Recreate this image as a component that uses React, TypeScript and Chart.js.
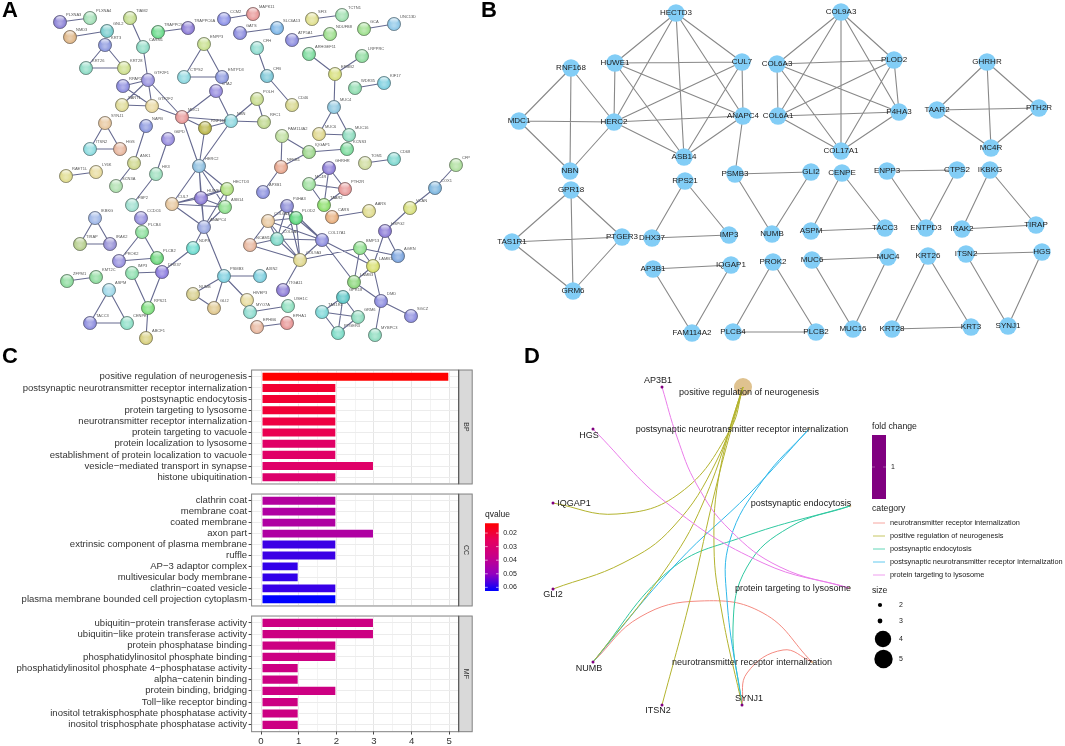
import React, { useEffect, useRef } from "react";
import { Chart, registerables } from "chart.js";

Chart.register(...registerables);

const FONT = "'Liberation Sans', Arial, sans-serif";

/* ---------- Panel A: protein interaction network ---------- */
const aNodes: [string, number, number, string][] = [
  ["PLXNA3", 60, 22, "#8f86d8"], ["PLXNA4", 90, 18, "#a3e0b8"], ["NMD3", 70, 37, "#e0b88a"], ["GNL2", 107, 31, "#7ccfd0"],
  ["KRT3", 105, 45, "#8f9be0"], ["KRT26", 86, 68, "#8fdcc6"], ["KRT28", 124, 68, "#cfe08f"], ["TIAM2", 130, 18, "#c5dd90"],
  ["CARM1", 143, 47, "#8fdcc6"], ["TRAPPC9", 158, 32, "#6fdc8f"], ["TRAPPC6A", 188, 28, "#9080d8"], ["GTF2F1", 148, 80, "#9a94e0"],
  ["RPAP2", 123, 86, "#8f8fe0"], ["SART1", 122, 105, "#e0dc9a"], ["GTF2F2", 152, 106, "#e8d8a0"], ["MDC1", 182, 117, "#e89a9a"],
  ["RNF168", 205, 128, "#bcb850"], ["NBN", 231, 121, "#8fd8e0"], ["HERC2", 199, 166, "#8fc0e0"], ["ENPP3", 204, 44, "#c8e090"],
  ["CTPS2", 184, 77, "#8fd8e0"], ["ENTPD3", 222, 77, "#8f9be0"], ["CTA2", 216, 91, "#9a8fe0"], ["SYNJ1", 105, 123, "#e8c8a0"],
  ["ITSN2", 90, 149, "#8fdce0"], ["HGS", 120, 149, "#e8b8a0"], ["NAPB", 146, 126, "#8f9be0"], ["G6PD", 168, 139, "#9a8fe0"],
  ["ANK1", 134, 163, "#d0d890"], ["HK3", 156, 174, "#a0e0c0"], ["RAET1L", 66, 176, "#e0dc90"], ["LY6K", 96, 172, "#e8dca0"],
  ["SCN3A", 116, 186, "#b0e0b0"], ["FBP2", 132, 205, "#a0e0d0"], ["CCDC6", 141, 218, "#9a94e0"], ["CUL7", 172, 204, "#e8c8a0"],
  ["HUWE1", 201, 198, "#8f80d8"], ["HECTD3", 227, 189, "#b0e080"], ["ASB14", 225, 207, "#90e090"], ["ANAPC4", 204, 227, "#9aa8e0"],
  ["NDP8", 193, 248, "#70dcd0"], ["PLCB4", 142, 232, "#90e0a0"], ["PROK2", 119, 261, "#9a94e0"], ["PLCB2", 157, 258, "#70d880"],
  ["DHX37", 162, 272, "#8f80e0"], ["IMP3", 132, 273, "#90e0b0"], ["RPS21", 148, 308, "#80e080"], ["ABCF1", 146, 338, "#d8d080"],
  ["IKBKG", 95, 218, "#a0b8e8"], ["TIRAP", 80, 244, "#b8d090"], ["IRAK2", 110, 244, "#9a94d8"], ["ZFPM1", 67, 281, "#90dca0"],
  ["KMT2C", 96, 277, "#90dca0"], ["ASPM", 109, 290, "#a0d8e8"], ["TACC3", 90, 323, "#9090e0"], ["CENPE", 127, 323, "#90e0c8"],
  ["PSMB3", 224, 276, "#80d0e0"], ["NUMB", 193, 294, "#d8d090"], ["GLI2", 214, 308, "#e0c890"], ["HIVEP3", 247, 300, "#e8dca0"],
  ["MYO7A", 250, 312, "#90dcd0"], ["AP3B1", 263, 192, "#8f94e0"], ["AXIN2", 260, 276, "#80d0e0"], ["NCAM1", 250, 245, "#e8b8a0"],
  ["COL6A3", 268, 221, "#e8c8a0"], ["P4HA3", 287, 206, "#8f8fd8"], ["PLOD2", 296, 218, "#60d880"], ["COL6A1", 277, 239, "#80d8c8"],
  ["COL17A1", 322, 240, "#8f8fe0"], ["COL9A3", 300, 260, "#e0d890"], ["ITGA11", 283, 290, "#9080d8"], ["USH1C", 288, 306, "#90e0c0"],
  ["EPHA1", 287, 323, "#e89a9a"], ["EPHB6", 257, 327, "#e8b8a0"], ["MC4R", 309, 184, "#a0e0a0"], ["GHRHR", 329, 168, "#8f80d8"],
  ["PTH2R", 345, 189, "#e89a9a"], ["TAAR2", 324, 205, "#90e070"], ["CARS", 332, 217, "#e8b080"], ["AARS", 369, 211, "#e0dc90"],
  ["HSPG2", 385, 231, "#8f80d8"], ["VCAN", 410, 208, "#d8e080"], ["COX1", 435, 188, "#80b8e0"], ["CFP", 456, 165, "#b0e0a0"],
  ["AGRN", 398, 256, "#80a8e0"], ["BMP13", 360, 248, "#90e090"], ["LAMB1", 373, 266, "#d8e070"], ["LAMB3", 354, 282, "#90d880"],
  ["DMD", 381, 301, "#8f8fe0"], ["SGCZ", 411, 316, "#8f8fe0"], ["MYBPC3", 375, 335, "#90dcc0"], ["GPR18", 343, 297, "#60c8c8"],
  ["TAS1R1", 322, 312, "#80d8d8"], ["GRM6", 358, 317, "#90dcc0"], ["PTGER3", 338, 333, "#80dcc8"], ["CCM2", 224, 19, "#8f94e8"],
  ["MAPK11", 253, 14, "#e89a9a"], ["GATS", 240, 33, "#8f8fe0"], ["SLC6A13", 277, 28, "#80b8e8"], ["SFI3", 312, 19, "#e0e090"],
  ["TCTN1", 342, 15, "#a0e0b0"], ["GCA", 364, 29, "#a0e090"], ["UNC13D", 394, 24, "#90c8e8"], ["ATP5A1", 292, 40, "#8f8fe0"],
  ["NDUFB8", 330, 34, "#a0e090"], ["CFH", 257, 48, "#90dcd0"], ["CFB", 267, 76, "#80c8d8"], ["CD46", 292, 105, "#d8d890"],
  ["ARHGEF11", 309, 54, "#80dca0"], ["ERBB2", 335, 74, "#d8e080"], ["LRPPRC", 362, 56, "#90dca0"], ["WDR35", 355, 88, "#90dcb0"],
  ["KIF17", 384, 83, "#80d0e0"], ["MUC4", 334, 107, "#90c8e0"], ["MUC6", 319, 134, "#e0d890"], ["MUC16", 349, 135, "#90dcc0"],
  ["KCNS3", 347, 149, "#80dca0"], ["FAM114A2", 282, 136, "#c0e0a0"], ["IQGAP1", 309, 152, "#a0d890"], ["NFKB1", 281, 167, "#e8a890"],
  ["TOM1", 365, 163, "#d0dca0"], ["CD68", 394, 159, "#80d8d0"], ["POLH", 257, 99, "#c8dc90"], ["RFC1", 264, 122, "#c0d890"],
];

const aGroups: string[][] = [
  ["PLXNA3", "PLXNA4"], ["NMD3", "GNL2"], ["KRT3", "KRT26", "KRT28"], ["TIAM2", "CARM1"], ["CARM1", "GTF2F1"],
  ["TRAPPC9", "TRAPPC6A"], ["GTF2F1", "RPAP2", "GTF2F2"], ["GTF2F1", "SART1"], ["SART1", "GTF2F2"], ["GTF2F1", "MDC1"],
  ["GTF2F2", "MDC1"], ["MDC1", "RNF168", "NBN", "HERC2"], ["MDC1", "CTA2"], ["CTA2", "NBN"], ["ENPP3", "CTPS2", "ENTPD3"],
  ["SYNJ1", "ITSN2", "HGS"], ["NAPB", "ANK1"], ["ANK1", "SCN3A"], ["G6PD", "HK3"], ["HK3", "FBP2"], ["RAET1L", "LY6K"],
  ["CCM2", "MAPK11"], ["GATS", "SLC6A13"], ["SFI3", "TCTN1"], ["GCA", "UNC13D"], ["ATP5A1", "NDUFB8"], ["CFH", "CFB"],
  ["CFB", "CD46"], ["ARHGEF11", "ERBB2"], ["LRPPRC", "ERBB2"], ["ERBB2", "MUC4"], ["WDR35", "KIF17"], ["MUC4", "MUC6", "MUC16"],
  ["FAM114A2", "IQGAP1", "NFKB1"], ["IQGAP1", "KCNS3"], ["TOM1", "CD68"], ["POLH", "NBN", "RFC1"], ["NFKB1", "AP3B1"],
  ["GHRHR", "MC4R", "PTH2R", "TAAR2"], ["CARS", "AARS"], ["CFP", "COX1"], ["COX1", "VCAN"], ["VCAN", "HSPG2"], ["HSPG2", "AGRN"],
  ["HSPG2", "LAMB1"], ["BMP13", "AGRN"], ["BMP13", "LAMB1", "LAMB3"], ["BMP13", "COL9A3"], ["LAMB1", "COL17A1"],
  ["LAMB3", "COL17A1"], ["LAMB1", "DMD"], ["LAMB3", "DMD"], ["DMD", "SGCZ"], ["DMD", "MYBPC3"],
  ["COL6A3", "P4HA3", "PLOD2", "COL6A1", "COL17A1", "COL9A3"], ["NCAM1", "COL6A3"], ["NCAM1", "COL6A1"], ["NCAM1", "COL9A3"],
  ["COL9A3", "ITGA11"], ["USH1C", "MYO7A"], ["EPHB6", "EPHA1"], ["PSMB3", "AXIN2"], ["PSMB3", "NUMB", "GLI2"], ["PSMB3", "HIVEP3"],
  ["ANAPC4", "PSMB3"], ["HERC2", "CUL7", "HUWE1", "HECTD3", "ASB14", "ANAPC4"], ["ANAPC4", "NDP8"], ["PLCB4", "PROK2", "PLCB2"],
  ["IKBKG", "TIRAP", "IRAK2"], ["ZFPM1", "KMT2C"], ["ASPM", "TACC3", "CENPE"], ["IMP3", "DHX37", "RPS21"], ["DHX37", "NDP8"],
  ["RPS21", "ABCF1"], ["GPR18", "TAS1R1", "GRM6", "PTGER3"],
];

/* ---------- Panel B: hub-gene modules ---------- */
const bNodes: [string, number, number][] = [
  ["HECTD3", 676, 13], ["HUWE1", 615, 63], ["CUL7", 742, 62], ["RNF168", 571, 68], ["MDC1", 519, 121], ["HERC2", 614, 122],
  ["ANAPC4", 743, 116], ["ASB14", 684, 157], ["NBN", 570, 171], ["PSMB3", 735, 174], ["COL9A3", 841, 12], ["COL6A3", 777, 64],
  ["PLOD2", 894, 60], ["COL6A1", 778, 116], ["P4HA3", 899, 112], ["COL17A1", 841, 151], ["GHRHR", 987, 62], ["TAAR2", 937, 110],
  ["PTH2R", 1039, 108], ["MC4R", 991, 148], ["GPR18", 571, 190], ["TAS1R1", 512, 242], ["PTGER3", 622, 237], ["GRM6", 573, 291],
  ["RPS21", 685, 181], ["DHX37", 652, 238], ["IMP3", 729, 235], ["GLI2", 811, 172], ["NUMB", 772, 234], ["CENPE", 842, 173],
  ["ASPM", 811, 231], ["TACC3", 885, 228], ["ENPP3", 887, 171], ["CTPS2", 957, 170], ["ENTPD3", 926, 228], ["IKBKG", 990, 170],
  ["IRAK2", 962, 229], ["TIRAP", 1036, 225], ["AP3B1", 653, 269], ["IQGAP1", 731, 265], ["FAM114A2", 692, 333], ["PROK2", 773, 262],
  ["PLCB4", 733, 332], ["PLCB2", 816, 332], ["MUC6", 812, 260], ["MUC4", 888, 257], ["MUC16", 853, 329], ["KRT26", 928, 256],
  ["KRT28", 892, 329], ["KRT3", 971, 327], ["ITSN2", 966, 254], ["HGS", 1042, 252], ["SYNJ1", 1008, 326],
];

const bGroups: string[][] = [
  ["HECTD3", "HUWE1", "CUL7", "ANAPC4", "ASB14", "HERC2"], ["RNF168", "MDC1", "HERC2", "NBN"], ["ANAPC4", "PSMB3"],
  ["PSMB3", "GLI2", "NUMB"], ["COL9A3", "COL6A3", "PLOD2", "COL6A1", "P4HA3", "COL17A1"], ["GHRHR", "TAAR2", "PTH2R", "MC4R"],
  ["GPR18", "TAS1R1", "PTGER3", "GRM6"], ["RPS21", "DHX37", "IMP3"], ["CENPE", "ASPM", "TACC3"], ["ENPP3", "CTPS2", "ENTPD3"],
  ["IKBKG", "IRAK2", "TIRAP"], ["AP3B1", "IQGAP1", "FAM114A2"], ["PROK2", "PLCB4", "PLCB2"], ["MUC6", "MUC4", "MUC16"],
  ["KRT26", "KRT28", "KRT3"], ["ITSN2", "HGS", "SYNJ1"],
];

/* ---------- Panel C: enrichment bars ---------- */
const bpTerms = [
  "positive regulation of neurogenesis", "postsynaptic neurotransmitter receptor internalization", "postsynaptic endocytosis",
  "protein targeting to lysosome", "neurotransmitter receptor internalization", "protein targeting to vacuole",
  "protein localization to lysosome", "establishment of protein localization to vacuole", "vesicle\u2212mediated transport in synapse",
  "histone ubiquitination",
];
const bpCounts = [5, 2, 2, 2, 2, 2, 2, 2, 3, 2];
const bpQ = [0.0128, 0.0195, 0.0195, 0.02, 0.0215, 0.0235, 0.0275, 0.0275, 0.028, 0.029];

const ccTerms = [
  "clathrin coat", "membrane coat", "coated membrane", "axon part", "extrinsic component of plasma membrane", "ruffle",
  "AP\u22123 adaptor complex", "multivesicular body membrane", "clathrin\u2212coated vesicle", "plasma membrane bounded cell projection cytoplasm",
];
const ccCounts = [2, 2, 2, 3, 2, 2, 1, 1, 2, 2];
const ccQ = [0.0425, 0.0435, 0.0435, 0.0435, 0.0577, 0.0577, 0.0585, 0.0585, 0.058, 0.0627];

const mfTerms = [
  "ubiquitin\u2212protein transferase activity", "ubiquitin\u2212like protein transferase activity", "protein phosphatase binding",
  "phosphatidylinositol phosphate binding", "phosphatidylinositol phosphate 4\u2212phosphatase activity", "alpha\u2212catenin binding",
  "protein binding, bridging", "Toll\u2212like receptor binding", "inositol tetrakisphosphate phosphatase activity",
  "inositol trisphosphate phosphatase activity",
];
const mfCounts = [3, 3, 2, 2, 1, 1, 2, 1, 1, 1];
const mfQ = [0.0355, 0.0355, 0.0355, 0.0355, 0.0355, 0.0355, 0.0355, 0.0355, 0.0355, 0.0355];

const qMin = 0.0128;
const qMax = 0.0627;
const qTicks = [0.02, 0.03, 0.04, 0.05, 0.06];
const qStops = ["#ff0000", "#e6005e", "#c6008a", "#9400bf", "#0000ff"];
const xTicks = [0, 1, 2, 3, 4, 5];
const xMinor = [0.5, 1.5, 2.5, 3.5, 4.5];

/* ---------- Panel D: gene-concept network ---------- */
const dGenes: [string, number, number, number, number][] = [
  ["AP3B1", 662, 387, 658, 381], ["HGS", 593, 429, 589, 436], ["IQGAP1", 553, 503, 574, 504], ["GLI2", 553, 589, 553, 595],
  ["NUMB", 593, 662, 589, 669], ["ITSN2", 662, 705, 658, 711], ["SYNJ1", 742, 705, 749, 699],
];
const dTerms: [string, number, number, number, number, number][] = [
  ["positive regulation of neurogenesis", 743, 387, 749, 393, 9],
  ["postsynaptic neurotransmitter receptor internalization", 809, 429, 742, 430, 1.3],
  ["postsynaptic endocytosis", 850, 506, 801, 504, 1.3],
  ["protein targeting to lysosome", 849, 588, 793, 589, 1.3],
  ["neurotransmitter receptor internalization", 812, 662, 752, 663, 1.3],
];
const dCats = [
  "neurotransmitter receptor internalization", "positive regulation of neurogenesis", "postsynaptic endocytosis",
  "postsynaptic neurotransmitter receptor internalization", "protein targeting to lysosome",
];
const dCatColors = ["#f48a80", "#b3b32e", "#2fc8a0", "#2fb8ea", "#ea7dea"];
const dSizes = [2, 3, 4, 5];
const dSizeRadii = [2.1, 2.4, 8.2, 9.2];
const dLegendY = [523, 536, 549, 562, 575];
const dSizeX = [880, 880, 883, 883.5];
const dSizeY = [605, 621, 639, 659];

const dCurves: [number, number[][]][] = [
  [4, [[662, 387], [677, 437], [697, 485], [730, 530], [780, 567], [849, 588]]],
  [4, [[593, 429], [668, 504], [763, 563], [849, 588]]],
  [1, [[553, 503], [617, 514], [680, 493], [730, 430], [743, 387]]],
  [1, [[553, 589], [623, 563], [673, 527], [717, 460], [743, 387]]],
  [1, [[593, 662], [663, 573], [703, 503], [743, 387]]],
  [1, [[662, 705], [690, 600], [717, 483], [743, 387]]],
  [1, [[742, 705], [722, 613], [714, 547], [720, 470], [743, 387]]],
  [3, [[593, 662], [677, 563], [750, 493], [809, 429]]],
  [3, [[742, 705], [727, 600], [730, 540], [763, 480], [809, 429]]],
  [2, [[593, 662], [670, 570], [743, 537], [850, 506]]],
  [2, [[742, 705], [733, 627], [747, 567], [790, 527], [850, 506]]],
  [0, [[593, 662], [640, 617], [700, 601], [763, 613], [812, 662]]],
  [0, [[742, 705], [747, 673], [783, 650], [812, 662]]],
];

/* ---------- helpers ---------- */
type Box = { left: number; top: number; width: number; height: number };
type Txt = { t: string; x: number; y: number; size: number; color?: string; align?: CanvasTextAlign; bold?: boolean };

function putText(ctx: CanvasRenderingContext2D, box: Box, items: Txt[]) {
  ctx.save();
  ctx.textBaseline = "middle";
  for (const it of items) {
    ctx.font = `${it.bold ? "bold " : ""}${it.size}px ${FONT}`;
    ctx.fillStyle = it.color || "#1a1a1a";
    ctx.textAlign = it.align || "left";
    ctx.fillText(it.t, it.x - box.left, it.y - box.top);
  }
  ctx.restore();
}

function lerpHex(a: string, b: string, f: number) {
  const pa = [1, 3, 5].map((i) => parseInt(a.slice(i, i + 2), 16));
  const pb = [1, 3, 5].map((i) => parseInt(b.slice(i, i + 2), 16));
  return `rgb(${pa.map((v, i) => Math.round(v + (pb[i] - v) * f)).join(",")})`;
}

function toHex(rgb: string) {
  const m = rgb.match(/\d+/g)!.map(Number);
  return "#" + m.map((v) => v.toString(16).padStart(2, "0")).join("");
}

function qColor(q: number) {
  const f = Math.min(1, Math.max(0, (q - qMin) / (qMax - qMin))) * (qStops.length - 1);
  const i = Math.min(qStops.length - 2, Math.floor(f));
  return lerpHex(qStops[i], qStops[i + 1], f - i);
}

const ballCache: Record<string, HTMLCanvasElement> = {};
function ball(color: string) {
  if (ballCache[color]) return ballCache[color];
  const c = document.createElement("canvas");
  c.width = 16;
  c.height = 16;
  const g = c.getContext("2d")!;
  const base = g.createRadialGradient(8, 9.5, 1, 8, 8, 7);
  base.addColorStop(0, toHex(lerpHex(color, "#ffffff", 0.3)));
  base.addColorStop(0.7, color);
  base.addColorStop(1, toHex(lerpHex(color, "#404040", 0.45)));
  g.beginPath();
  g.arc(8, 8, 6.6, 0, Math.PI * 2);
  g.fillStyle = base;
  g.fill();
  g.lineWidth = 0.7;
  g.strokeStyle = lerpHex(color, "#303030", 0.55);
  g.stroke();
  const hi = g.createLinearGradient(0, 2, 0, 7);
  hi.addColorStop(0, "rgba(255,255,255,0.85)");
  hi.addColorStop(1, "rgba(255,255,255,0.05)");
  g.beginPath();
  g.ellipse(8, 4.8, 4, 2.6, 0, 0, Math.PI * 2);
  g.fillStyle = hi;
  g.fill();
  ballCache[color] = c;
  return c;
}

function edgeData(groups: string[][], pos: Record<string, [number, number]>) {
  const out: { x: number; y: number }[] = [];
  for (const g of groups) {
    for (let i = 0; i < g.length; i++) {
      for (let j = i + 1; j < g.length; j++) {
        const a = pos[g[i]];
        const b = pos[g[j]];
        if (!a || !b) continue;
        out.push({ x: a[0], y: a[1] }, { x: b[0], y: b[1] }, { x: NaN, y: NaN });
      }
    }
  }
  return out;
}

function pixelScales(box: Box) {
  return {
    x: { type: "linear", display: false, min: box.left, max: box.left + box.width },
    y: { type: "linear", display: false, min: box.top, max: box.top + box.height, reverse: true },
  };
}

const baseOptions = {
  animation: false,
  responsive: false,
  maintainAspectRatio: false,
  plugins: { legend: { display: false }, tooltip: { enabled: false }, title: { display: false } },
};
const flatLayout = { autoPadding: false, padding: 0 };

/* ---------- chart configs ---------- */
const boxA: Box = { left: 0, top: 0, width: 480, height: 350 };
function configA() {
  const pos: Record<string, [number, number]> = {};
  aNodes.forEach((n) => (pos[n[0]] = [n[1], n[2]]));
  return {
    type: "scatter",
    data: {
      datasets: [
        {
          data: aNodes.map((n) => ({ x: n[1], y: n[2] })),
          pointStyle: aNodes.map((n) => ball(n[3])),
          pointRadius: 7,
          clip: false,
        },
        {
          type: "line",
          data: edgeData(aGroups, pos),
          borderColor: "#666a90",
          borderWidth: 1.1,
          pointRadius: 0,
          spanGaps: false,
          showLine: true,
        },
      ],
    },
    options: { ...baseOptions, layout: flatLayout, scales: pixelScales(boxA) },
    plugins: [
      {
        id: "aText",
        afterDatasetsDraw(chart: any) {
          putText(chart.ctx, boxA, [
            { t: "A", x: 2, y: 11, size: 22, bold: true, color: "#000" },
            ...aNodes.map((n) => ({ t: n[0], x: n[1] + 6, y: n[2] - 7, size: 4, color: "#555" })),
          ]);
        },
      },
    ],
  };
}

const boxB: Box = { left: 480, top: 0, width: 585, height: 350 };
function configB() {
  const pos: Record<string, [number, number]> = {};
  bNodes.forEach((n) => (pos[n[0]] = [n[1], n[2]]));
  return {
    type: "scatter",
    data: {
      datasets: [
        {
          data: bNodes.map((n) => ({ x: n[1], y: n[2] })),
          backgroundColor: "#82cdf6",
          borderWidth: 0,
          pointRadius: 8.7,
          clip: false,
        },
        {
          type: "line",
          data: edgeData(bGroups, pos),
          borderColor: "#888888",
          borderWidth: 1.1,
          pointRadius: 0,
          spanGaps: false,
          showLine: true,
        },
      ],
    },
    options: { ...baseOptions, layout: flatLayout, scales: pixelScales(boxB) },
    plugins: [
      {
        id: "bText",
        afterDatasetsDraw(chart: any) {
          putText(chart.ctx, boxB, [
            { t: "B", x: 481, y: 11, size: 22, bold: true, color: "#000" },
            ...bNodes.map((n) => ({ t: n[0], x: n[1], y: n[2], size: 8, align: "center" as CanvasTextAlign })),
          ]);
        },
      },
    ],
  };
}

function facetConfig(
  box: Box,
  terms: string[],
  counts: number[],
  q: number[],
  strip: string,
  areaTop: number,
  areaBottom: number,
  showX: boolean,
  extra: Txt[],
) {
  const left = 251.6;
  const right = 458.7;
  return {
    type: "bar",
    data: {
      labels: terms,
      datasets: [
        {
          data: counts,
          backgroundColor: q.map(qColor),
          borderColor: "rgba(255,255,255,0.6)",
          borderWidth: 1,
          borderSkipped: false,
          barPercentage: 0.9,
          categoryPercentage: 1,
        },
      ],
    },
    options: {
      ...baseOptions,
      indexAxis: "y",
      layout: {
        autoPadding: false,
        padding: {
          top: areaTop - box.top,
          right: box.width - right,
          bottom: showX ? 0 : box.top + box.height - areaBottom,
          left: 0,
        },
      },
      scales: {
        x: {
          type: "linear",
          min: -0.25,
          max: 5.25,
          afterBuildTicks(s: any) {
            s.ticks = [...xTicks, ...xMinor].sort((a, b) => a - b).map((v) => ({ value: v }));
          },
          afterFit(s: any) {
            s.height = showX ? box.top + box.height - areaBottom : 0;
          },
          border: { display: false },
          grid: {
            color: (c: any) => (c.tick && Number.isInteger(c.tick.value) ? "#e6e6e6" : "#f3f3f3"),
            lineWidth: 1,
            drawTicks: showX,
            tickLength: 4,
            tickColor: (c: any) => (c.tick && Number.isInteger(c.tick.value) ? "#444" : "rgba(0,0,0,0)"),
          },
          ticks: {
            display: showX,
            autoSkip: false,
            maxRotation: 0,
            padding: 1,
            color: "#333",
            font: { family: FONT, size: 9.6 },
            callback: (v: any) => (Number.isInteger(v) ? String(v) : ""),
          },
        },
        y: {
          type: "category",
          afterFit(s: any) {
            s.width = left;
          },
          border: { display: false },
          grid: { color: "#ececec", lineWidth: 1, offset: false, drawTicks: true, tickLength: 3, tickColor: "#444" },
          ticks: { autoSkip: false, padding: 1.5, color: "#333", font: { family: FONT, size: 9.55 } },
        },
      },
    },
    plugins: [
      {
        id: "panel",
        afterDatasetsDraw(chart: any) {
          const ctx: CanvasRenderingContext2D = chart.ctx;
          const a = chart.chartArea;
          const t = a.top - 1.2;
          const h = a.bottom - a.top + 2.4;
          ctx.save();
          ctx.strokeStyle = "#808080";
          ctx.lineWidth = 1;
          ctx.strokeRect(a.left, t, a.right - a.left, h);
          ctx.fillStyle = "#d9d9d9";
          ctx.fillRect(a.right, t, 13.5, h);
          ctx.strokeRect(a.right, t, 13.5, h);
          ctx.strokeStyle = "#555";
          ctx.beginPath();
          ctx.moveTo(a.right, t);
          ctx.lineTo(a.right, t + h);
          ctx.stroke();
          ctx.translate(a.right + 6.8, t + h / 2);
          ctx.rotate(Math.PI / 2);
          ctx.fillStyle = "#333";
          ctx.font = `7px ${FONT}`;
          ctx.textAlign = "center";
          ctx.textBaseline = "middle";
          ctx.fillText(strip, 0, 0);
          ctx.restore();
          putText(ctx, box, extra);
        },
      },
    ],
  };
}

const boxC1: Box = { left: 0, top: 345, width: 480, height: 145 };
const boxC2: Box = { left: 0, top: 488, width: 480, height: 124 };
const boxC3: Box = { left: 0, top: 610, width: 480, height: 136 };
const configC1 = () =>
  facetConfig(boxC1, bpTerms, bpCounts, bpQ, "BP", 371.2, 486.8, false, [
    { t: "C", x: 2, y: 357, size: 22, bold: true, color: "#000" },
  ]);
const configC2 = () => facetConfig(boxC2, ccTerms, ccCounts, ccQ, "CC", 493.2, 608.4, false, []);
const configC3 = () => facetConfig(boxC3, mfTerms, mfCounts, mfQ, "MF", 615.3, 730.5, true, []);

const boxQ: Box = { left: 480, top: 505, width: 60, height: 95 };
function configQ() {
  return {
    type: "bar",
    data: {
      labels: ["qvalue"],
      datasets: [
        {
          data: [[qMin, qMax]],
          barPercentage: 1,
          categoryPercentage: 1,
          backgroundColor: (c: any) => {
            const a = c.chart.chartArea;
            if (!a) return "#c6008a";
            const g = c.chart.ctx.createLinearGradient(0, a.top, 0, a.bottom);
            qStops.forEach((s, i) => g.addColorStop(i / (qStops.length - 1), s));
            return g;
          },
        },
      ],
    },
    options: {
      ...baseOptions,
      layout: { autoPadding: false, padding: { left: 5, top: 18.3, bottom: 9, right: 0 } },
      scales: {
        x: { type: "category", display: false },
        y: {
          type: "linear",
          position: "right",
          reverse: true,
          min: qMin,
          max: qMax,
          afterBuildTicks(s: any) {
            s.ticks = qTicks.map((v) => ({ value: v }));
          },
          afterFit(s: any) {
            s.width = 41.3;
          },
          border: { display: false },
          grid: { display: false, drawTicks: false },
          ticks: {
            padding: 4.5,
            color: "#1a1a1a",
            font: { family: FONT, size: 7 },
            callback: (v: any) => Number(v).toFixed(2),
          },
        },
      },
    },
    plugins: [
      {
        id: "qText",
        afterDatasetsDraw(chart: any) {
          const ctx: CanvasRenderingContext2D = chart.ctx;
          const a = chart.chartArea;
          ctx.save();
          ctx.strokeStyle = "rgba(255,255,255,0.85)";
          ctx.lineWidth = 0.7;
          qTicks.forEach((q) => {
            const y = chart.scales.y.getPixelForValue(q);
            ctx.beginPath();
            ctx.moveTo(a.left, y);
            ctx.lineTo(a.left + 2.7, y);
            ctx.moveTo(a.right - 2.7, y);
            ctx.lineTo(a.right, y);
            ctx.stroke();
          });
          ctx.restore();
          putText(ctx, boxQ, [{ t: "qvalue", x: 485, y: 515, size: 8.5 }]);
        },
      },
    ],
  };
}

const boxD: Box = { left: 500, top: 345, width: 565, height: 401 };
function configD() {
  const edges = dCurves.map(([cat, pts]) => ({
    type: "line",
    data: pts.map((p) => ({ x: p[0], y: p[1] })),
    borderColor: dCatColors[cat],
    borderWidth: 1,
    pointRadius: 0,
    tension: 0.42,
    showLine: true,
  }));
  return {
    type: "scatter",
    data: {
      datasets: [
        {
          data: dGenes.map((g) => ({ x: g[1], y: g[2] })),
          backgroundColor: "#800080",
          borderWidth: 0,
          pointRadius: 1.5,
        },
        ...edges,
        {
          data: dTerms.map((t) => ({ x: t[1], y: t[2] })),
          backgroundColor: "#dfc28f",
          borderWidth: 0,
          pointRadius: dTerms.map((t) => t[5]),
        },
      ],
    },
    options: { ...baseOptions, layout: flatLayout, scales: pixelScales(boxD) },
    plugins: [
      {
        id: "dText",
        afterDatasetsDraw(chart: any) {
          const ctx: CanvasRenderingContext2D = chart.ctx;
          const L = boxD.left;
          const T = boxD.top;
          ctx.save();
          ctx.fillStyle = "#800080";
          ctx.fillRect(872 - L, 435 - T, 14, 64);
          ctx.strokeStyle = "rgba(255,255,255,0.5)";
          ctx.lineWidth = 0.6;
          ctx.beginPath();
          ctx.moveTo(872 - L, 467 - T);
          ctx.lineTo(875 - L, 467 - T);
          ctx.moveTo(883 - L, 467 - T);
          ctx.lineTo(886 - L, 467 - T);
          ctx.stroke();
          dCats.forEach((_, i) => {
            ctx.strokeStyle = dCatColors[i];
            ctx.globalAlpha = 0.75;
            ctx.lineWidth = 1;
            ctx.beginPath();
            ctx.moveTo(873 - L, dLegendY[i] - T);
            ctx.lineTo(885 - L, dLegendY[i] - T);
            ctx.stroke();
          });
          ctx.globalAlpha = 1;
          dSizes.forEach((_, i) => {
            ctx.fillStyle = "#000";
            ctx.beginPath();
            ctx.arc(dSizeX[i] - L, dSizeY[i] - T, dSizeRadii[i], 0, Math.PI * 2);
            ctx.fill();
          });
          ctx.restore();
          putText(ctx, boxD, [
            { t: "D", x: 524, y: 357, size: 22, bold: true, color: "#000" },
            ...dGenes.map((g) => ({ t: g[0], x: g[3], y: g[4], size: 9, align: "center" as CanvasTextAlign })),
            ...dTerms.map((t) => ({ t: t[0], x: t[3], y: t[4], size: 9.05, align: "center" as CanvasTextAlign })),
            { t: "fold change", x: 872, y: 427, size: 8.7 },
            { t: "1", x: 891, y: 467, size: 7 },
            { t: "category", x: 872, y: 509, size: 8.7 },
            ...dCats.map((c, i) => ({ t: c, x: 890, y: dLegendY[i], size: 7.35 })),
            { t: "size", x: 872, y: 591, size: 8.7 },
            ...dSizes.map((s, i) => ({ t: String(s), x: 899, y: dSizeY[i], size: 7 })),
          ]);
        },
      },
    ],
  };
}

function Panel({ box, make }: { box: Box; make: () => any }) {
  const ref = useRef<HTMLCanvasElement>(null);
  useEffect(() => {
    if (!ref.current) return;
    const chart = new Chart(ref.current, make());
    return () => chart.destroy();
  }, []);
  return (
    <canvas
      ref={ref}
      width={box.width}
      height={box.height}
      style={{ position: "absolute", left: box.left, top: box.top, width: box.width, height: box.height }}
    />
  );
}

export default function App() {
  return (
    <div style={{ position: "absolute", left: 0, top: 0, width: 1065, height: 746, background: "#fff", overflow: "hidden" }}>
      <Panel box={boxA} make={configA} />
      <Panel box={boxB} make={configB} />
      <Panel box={boxC1} make={configC1} />
      <Panel box={boxC2} make={configC2} />
      <Panel box={boxC3} make={configC3} />
      <Panel box={boxQ} make={configQ} />
      <Panel box={boxD} make={configD} />
    </div>
  );
}
